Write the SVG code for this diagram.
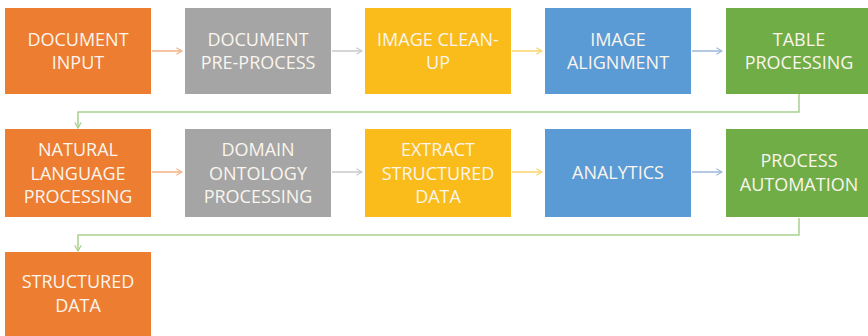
<svg xmlns="http://www.w3.org/2000/svg" width="868" height="336" viewBox="0 0 868 336">
<defs>
<style>
.box{stroke:none}
.o{fill:#ED7D31}.g{fill:#A5A5A5}.y{fill:#F9BC1A}.b{fill:#5B9BD5}.gr{fill:#70AD47}
text{font-family:"Open Sans","Liberation Sans",sans-serif;font-size:18px;fill:#FAF5EE;text-anchor:middle}
.c{fill:none;stroke-width:1.5}
</style>
<marker id="ao" viewBox="0 0 10 10" refX="9" refY="5" markerWidth="8" markerHeight="8" orient="auto" markerUnits="userSpaceOnUse"><path d="M2,1 L9,5 L2,9" fill="none" stroke="#F4B183" stroke-width="1.5"/></marker>
<marker id="ag" viewBox="0 0 10 10" refX="9" refY="5" markerWidth="8" markerHeight="8" orient="auto" markerUnits="userSpaceOnUse"><path d="M2,1 L9,5 L2,9" fill="none" stroke="#C9C9C9" stroke-width="1.5"/></marker>
<marker id="ay" viewBox="0 0 10 10" refX="9" refY="5" markerWidth="8" markerHeight="8" orient="auto" markerUnits="userSpaceOnUse"><path d="M2,1 L9,5 L2,9" fill="none" stroke="#F7D46A" stroke-width="1.5"/></marker>
<marker id="ab" viewBox="0 0 10 10" refX="9" refY="5" markerWidth="8" markerHeight="8" orient="auto" markerUnits="userSpaceOnUse"><path d="M2,1 L9,5 L2,9" fill="none" stroke="#9DB9D8" stroke-width="1.5"/></marker>
<marker id="agr" viewBox="0 0 10 10" refX="9" refY="5" markerWidth="8" markerHeight="8" orient="auto" markerUnits="userSpaceOnUse"><path d="M2,1 L9,5 L2,9" fill="none" stroke="#A9D18E" stroke-width="1.5"/></marker>
</defs>
<rect width="868" height="336" fill="#FFFFFF"/>
<g id="connectors">
<line class="c" x1="152" y1="51" x2="182" y2="51" stroke="#F4B183" marker-end="url(#ao)"/>
<line class="c" x1="332" y1="51" x2="362" y2="51" stroke="#C9C9C9" marker-end="url(#ag)"/>
<line class="c" x1="512" y1="51" x2="542" y2="51" stroke="#F7D46A" marker-end="url(#ay)"/>
<line class="c" x1="692" y1="51" x2="722" y2="51" stroke="#9DB9D8" marker-end="url(#ab)"/>
<polyline class="c" points="799,94 799,112 78,112 78,128" stroke="#A9D18E" marker-end="url(#agr)"/>
<line class="c" x1="152" y1="172" x2="182" y2="172" stroke="#F4B183" marker-end="url(#ao)"/>
<line class="c" x1="332" y1="172" x2="362" y2="172" stroke="#C9C9C9" marker-end="url(#ag)"/>
<line class="c" x1="512" y1="172" x2="542" y2="172" stroke="#F7D46A" marker-end="url(#ay)"/>
<line class="c" x1="692" y1="172" x2="722" y2="172" stroke="#9DB9D8" marker-end="url(#ab)"/>
<polyline class="c" points="799,218 799,235 78,235 78,251" stroke="#A9D18E" marker-end="url(#agr)"/>
</g>
<g id="n1"><rect class="box o" x="5" y="8" width="146" height="86"/><text x="78" y="46">DOCUMENT</text><text x="78" y="69">INPUT</text></g>
<g id="n2"><rect class="box g" x="185" y="8" width="146" height="86"/><text x="258" y="46">DOCUMENT</text><text x="258" y="69">PRE-PROCESS</text></g>
<g id="n3"><rect class="box y" x="365" y="8" width="146" height="86"/><text x="438" y="46">IMAGE CLEAN-</text><text x="438" y="69">UP</text></g>
<g id="n4"><rect class="box b" x="545" y="8" width="146" height="86"/><text x="618" y="46">IMAGE</text><text x="618" y="69">ALIGNMENT</text></g>
<g id="n5"><rect class="box gr" x="726" y="8" width="146" height="86"/><text x="799" y="46">TABLE</text><text x="799" y="69">PROCESSING</text></g>
<g id="n6"><rect class="box o" x="5" y="129" width="146" height="88"/><text x="78" y="156">NATURAL</text><text x="78" y="180">LANGUAGE</text><text x="78" y="203">PROCESSING</text></g>
<g id="n7"><rect class="box g" x="185" y="129" width="146" height="88"/><text x="258" y="156">DOMAIN</text><text x="258" y="180">ONTOLOGY</text><text x="258" y="203">PROCESSING</text></g>
<g id="n8"><rect class="box y" x="365" y="129" width="146" height="88"/><text x="438" y="156">EXTRACT</text><text x="438" y="180">STRUCTURED</text><text x="438" y="203">DATA</text></g>
<g id="n9"><rect class="box b" x="545" y="129" width="146" height="88"/><text x="618" y="179">ANALYTICS</text></g>
<g id="n10"><rect class="box gr" x="726" y="129" width="146" height="88"/><text x="799" y="167">PROCESS</text><text x="799" y="191">AUTOMATION</text></g>
<g id="n11"><rect class="box o" x="5" y="252" width="146" height="90"/><text x="78" y="288">STRUCTURED</text><text x="78" y="312">DATA</text></g>
</svg>
